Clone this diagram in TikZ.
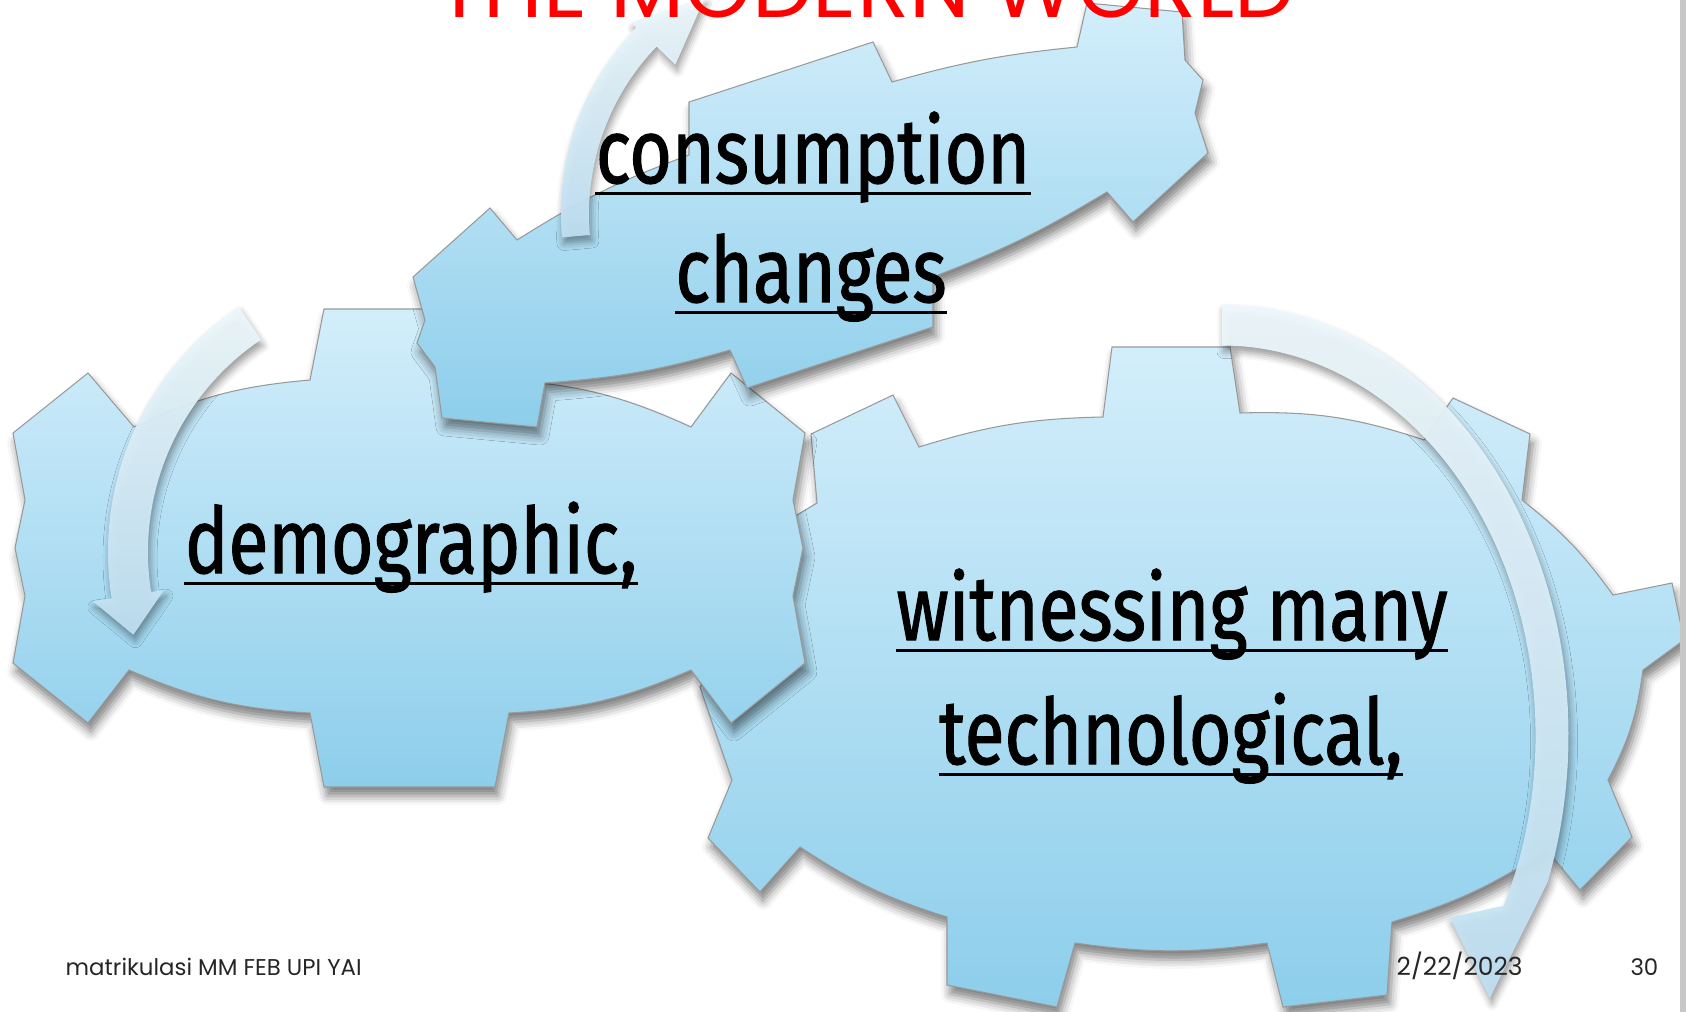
\documentclass[tikz,border=0pt]{standalone}
\usepackage{fontspec}
\newfontfamily\gearfont[FakeStretch=0.80, FakeBold=1.2]{Fira Sans}
\newfontfamily\slidefont{Poppins}
\usetikzlibrary{shadows.blur}

\definecolor{gearLight}{HTML}{D3EEFB}
\definecolor{gearDark}{HTML}{8DCEEB}
\definecolor{arrowLight}{HTML}{EEF8FD}
\definecolor{arrowDark}{HTML}{BFE0F2}
\definecolor{titleRed}{HTML}{FF0000}

\begin{document}
\begin{tikzpicture}[
		x=0.1mm, y=-0.1mm,
		% gear bodies
		gear/.style={draw=black!40, line width=0.3pt, top color=gearLight, bottom color=gearDark,
			blur shadow={shadow xshift=0.3mm, shadow yshift=-0.9mm, shadow blur radius=0.9mm, shadow opacity=50}},
		% curved arrows round the gears
		turn arrow/.style={top color=arrowLight, bottom color=arrowDark, fill opacity=0.94,
			blur shadow={shadow xshift=0.2mm, shadow yshift=-0.6mm, shadow blur radius=0.7mm, shadow opacity=40}},
		% words on the gears
		gear label/.style={font=\gearfont\fontsize{26}{30}\selectfont, inner sep=0pt, anchor=base},
		underline/.style={line width=0.8pt},
		foot/.style={font=\slidefont\fontsize{6.5}{8}\selectfont, inner sep=0pt, text=black!85}
	]
	\useasboundingbox (0,0) rectangle (1686,1012);
	\clip (0,0) rectangle (1686,1012);

	% big gear, bottom right
	\path[gear] (1103,417) -- (1112,347) -- (1230,347) -- (1240,413)
		to[bend left=10] (1424,440) -- (1453,398) -- (1530,434) -- (1522,500)
		to[bend left=8] (1613,595) -- (1672,583) -- (1684,640) -- (1643,670)
		to[bend left=10] (1608,780) -- (1632,837) -- (1580,890) -- (1547,850)
		to[bend left=8] (1392,922) -- (1387,995) -- (1283,1007) -- (1267,943)
		to[bend left=8] (1075,943) -- (1057,1007) -- (947,985) -- (947,917)
		to[bend left=8] (800,847) -- (760,892) -- (708,838) -- (732,780) -- (700,687)
		-- (760,600) -- (797,515) -- (817,503) -- (811,434) -- (893,395) -- (919,447)
		to[bend left=8] cycle;

	% left gear
	\path[gear] (310,380) -- (324,309) -- (495,309) -- (509,380)
		to[bend left=10] (691,427) -- (731,373) -- (805,433) -- (793,500) -- (803,548)
		-- (793,596) -- (805,663) -- (731,723) -- (691,670)
		to[bend left=10] (509,713) -- (495,787) -- (324,787) -- (310,713)
		to[bend left=10] (129,670) -- (88,723) -- (13,663) -- (25,596) -- (15,548)
		-- (25,500) -- (13,433) -- (88,373) -- (134,427)
		to[bend left=10] cycle;

	% small gear on top, tilted
	\path[gear] (413,277) -- (490,208) -- (517,240)
		to[bend left=6] (689,155) -- (689,102) -- (873,42) -- (892,82)
		to[bend left=5] (1077,47) -- (1087,3) -- (1182,12) -- (1185,60) -- (1203,80)
		-- (1195,113) -- (1208,153) -- (1133,222) -- (1107,192)
		to[bend left=5] (933,277) -- (933,327) -- (747,388) -- (730,350)
		to[bend left=6] (545,383) -- (537,427) -- (442,418) -- (435,367) -- (417,343)
		-- (425,320) -- cycle;

	% arrow round the top gear
	\begin{scope}[shift={(830,214)}]
		\path[turn arrow] (175:269) arc[start angle=175, end angle=224, radius=269]
			-- (224:276) -- (240:250) -- (224:215) -- (224:241)
			arc[start angle=224, end angle=175, radius=241] -- cycle;
	\end{scope}

	% arrow round the left gear
	\begin{scope}[shift={(404,552)}]
		\path[turn arrow] (236:296) arc[start angle=236, end angle=171, radius=296]
			-- (171:315) -- (163:283) -- (171:243) -- (171:256)
			arc[start angle=171, end angle=236, radius=256] -- cycle;
	\end{scope}

	% arrow round the big gear
	\begin{scope}[shift={(1222,735)}]
		\path[turn arrow] (-90:346.5 and 430.5)
			arc[start angle=-90, end angle=20, x radius=346.5, y radius=430.5]
			-- (38.3:341.5 and 424) -- (32.8:271 and 337) -- (26:313.5 and 389.5)
			arc[start angle=26, end angle=-90, x radius=313.5, y radius=389.5] -- cycle;
	\end{scope}

	% labels
	\node[gear label] (cons) at (813,183) {consumption};
	\node[gear label] (chg) at (811,302) {changes};
	\node[gear label] (demo) at (411,573) {demographic,};
	\node[gear label] (witn) at (1172,640) {witnessing many};
	\node[gear label] (tech) at (1171,764) {technological,};
	\foreach \n in {cons,chg,demo,witn,tech}
		\draw[underline] ([yshift=-1.05mm]\n.base west) -- ([yshift=-1.05mm]\n.base east);

	% slide title, cut by the top edge
	\node[font=\slidefont\fontsize{24.5}{29}\selectfont, text=titleRed, inner sep=0pt, anchor=base] (title) at (866,17) {THE MODERN WORLD};

	% footer
	\node[foot, anchor=base west] (course) at (65,975) {matrikulasi MM FEB UPI YAI};
	\node[foot, anchor=base west, font=\slidefont\fontsize{7.1}{8}\selectfont] (date) at (1396,975) {2/22/2023};
	\node[foot, anchor=base east] (page) at (1659,975) {30};

	% edge of the slide
	\fill[black!22] (1680,0) rectangle (1686,1012);
\end{tikzpicture}
\end{document}
